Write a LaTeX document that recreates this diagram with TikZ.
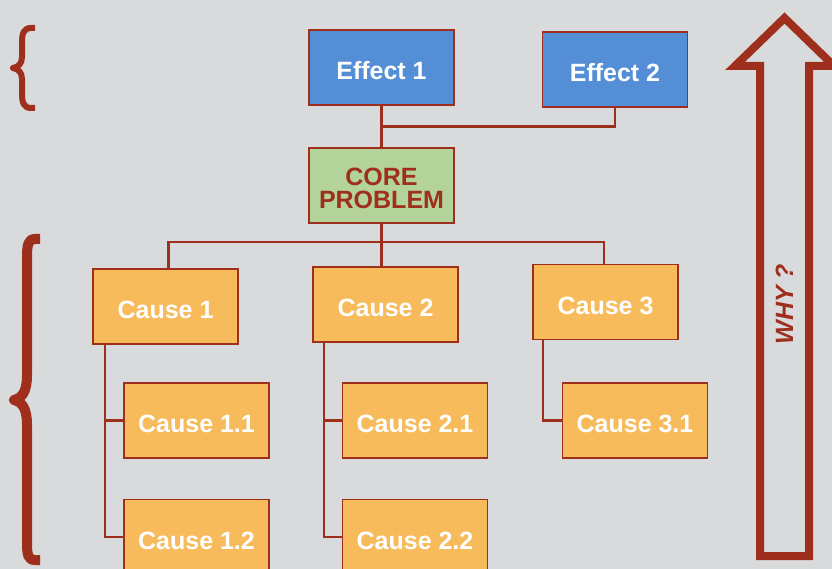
\documentclass[tikz,border=0pt]{standalone}
\usepackage{fontspec}
\setmainfont{Liberation Sans}
\usetikzlibrary{calc}
\definecolor{bg}{HTML}{D9DADC}
\definecolor{brick}{HTML}{9E2F1C}
\definecolor{effblue}{HTML}{548ED6}
\definecolor{coregreen}{HTML}{B4D39B}
\definecolor{causeorange}{HTML}{F7BB5C}
\tikzset{
  box/.style={draw=brick, line width=1.6pt, minimum width=145pt, minimum height=75pt,
    inner sep=0pt, text height=24pt, text depth=0pt,
    font=\fontsize{25}{23}\selectfont\bfseries, text=white},
  effect/.style={box, fill=effblue},
  cause/.style={box, fill=causeorange},
  corebox/.style={box, fill=coregreen, text=brick, align=center, text height=47pt},
  link/.style={draw=brick, line width=2.3pt},
  brace/.style={draw=brick, line join=round},
}
\begin{document}
\begin{tikzpicture}[x=1pt,y=-1pt]
        \useasboundingbox (0,0) rectangle (832,569);
        \clip (0,0) rectangle (832,569);
        \fill[bg] (0,0) rectangle (832,569);
        % braces on the left
        \draw[brace, line width=6pt] (35,28) -- (31,28) .. controls (24,28) and (22,33) .. (22,42) -- (22,57)
          .. controls (22,64) and (18,67) .. (13,68) .. controls (18,69) and (22,72) .. (22,79) -- (22,94)
          .. controls (22,103) and (24,108) .. (31,108) -- (35,108);
        \draw[brace, line width=10pt] (40,239) -- (35,239) .. controls (28,239) and (27,245) .. (27,258) -- (27,375)
          .. controls (27,392) and (22,398) .. (14,400) .. controls (22,402) and (27,408) .. (27,425) -- (27,542)
          .. controls (27,555) and (28,560) .. (35,560) -- (40,560);
        % why arrow
        \draw[brick, line width=8pt, line join=miter] (760,556) -- (760,66) -- (735,66) -- (784.5,18)
          -- (834,66) -- (809,66) -- (809,556) -- cycle;
        \node[rotate=90, text=brick, font=\fontsize{25}{25}\selectfont\bfseries\itshape] (why) at (784.5,304) {WHY ?};
        % effects and core
        \node[effect] (eff1) at (381.5,67.5) {Effect 1};
        \node[effect] (eff2) at (615,69.5) {Effect 2};
        \node[corebox] (core) at (381.5,185.5) {CORE\\PROBLEM};
        % causes
        \node[cause] (c1) at (165.5,306.5) {Cause 1};
        \node[cause] (c2) at (385.5,304.5) {Cause 2};
        \node[cause] (c3) at (605.5,302) {Cause 3};
        \node[cause] (c11) at (196.5,420.5) {Cause 1.1};
        \node[cause] (c12) at (196.5,537) {Cause 1.2};
        \node[cause] (c21) at (415,420.5) {Cause 2.1};
        \node[cause] (c22) at (415,537) {Cause 2.2};
        \node[cause] (c31) at (635,420.5) {Cause 3.1};
        % links
        \coordinate (ejoin) at ($(eff1.south)!.5!(core.north)$);
        \coordinate (cjoin) at (381.5,242);
        \draw[link] (eff1) -- (core);
        \draw[link] (eff2.south) |- (ejoin);
        \draw[link] (core.south) -- (c2.north -| core.south);
        \draw[link] ([xshift=3pt]c1.north) |- (cjoin) -| ([xshift=-1.5pt]c3.north);
        \draw[link] ([xshift=13pt]c1.south west) |- (c11.west);
        \draw[link] ([xshift=13pt]c1.south west) |- (c12.west);
        \draw[link] ([xshift=12pt]c2.south west) |- (c21.west);
        \draw[link] ([xshift=12pt]c2.south west) |- (c22.west);
        \draw[link] ([xshift=11pt]c3.south west) |- (c31.west);
\end{tikzpicture}
\end{document}
